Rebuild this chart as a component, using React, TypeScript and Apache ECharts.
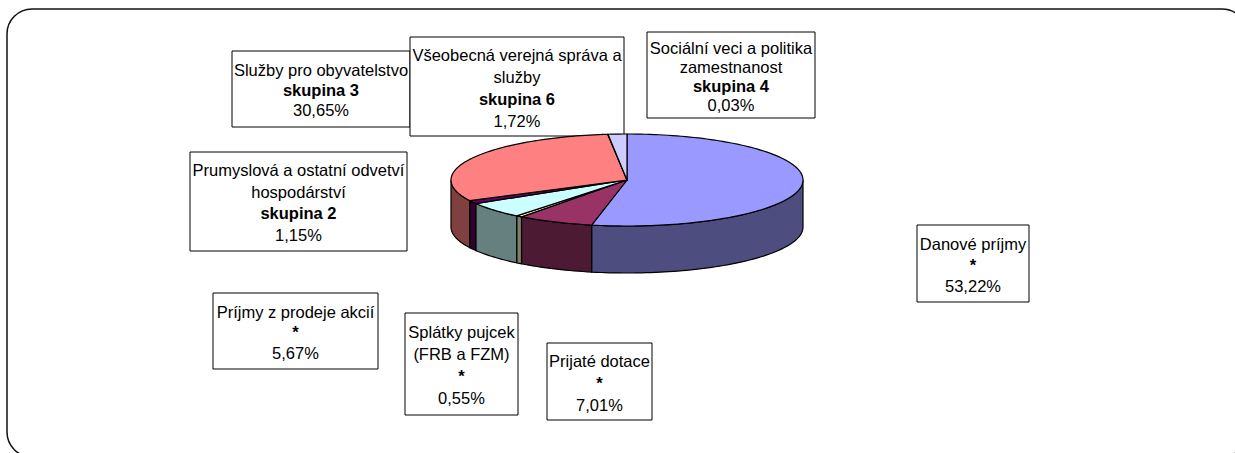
import React, { useEffect, useRef } from "react";
import * as echarts from "echarts";

// ---- data ----
const categories = [
  "Danové príjmy",
  "Prijaté dotace",
  "Splátky pujcek\n(FRB a FZM)",
  "Príjmy z prodeje akcií",
  "Prumyslová a ostatní odvetví\nhospodárství",
  "Služby pro obyvatelstvo",
  "Sociální veci a politika\nzamestnanost",
  "Všeobecná verejná správa a\nslužby",
];
const groups = ["*", "*", "*", "*", "skupina 2", "skupina 3", "skupina 4", "skupina 6"];
const values = [53.22, 7.01, 0.55, 5.67, 1.15, 30.65, 0.03, 1.72];

// ---- styles / layout ----
const palette = ["#9999FF", "#993366", "#FFFFCC", "#CCFFFF", "#660066", "#FF8080", "#0066CC", "#CCCCFF"];
const FONT = "'Liberation Sans', Arial, sans-serif";
const FS = 16.5;
const PIE = { cx: 627, cy: 180, rx: 176, ry: 46, depth: 47 };
// label boxes [x, y, w, h, lineHeight]
const boxes: number[][] = [
  [917, 225, 112, 77, 21],
  [547, 343, 105, 77, 22],
  [405, 313, 113, 102, 22],
  [213, 293, 165, 76, 20.5],
  [190, 152, 217, 99, 21.5],
  [232, 51, 178, 76, 20],
  [647, 32, 168, 86, 19],
  [410, 37, 214, 99, 22],
];

function darken(hex: string, f: number) {
  const n = parseInt(hex.slice(1), 16);
  const r = Math.round(((n >> 16) & 255) * f);
  const g = Math.round(((n >> 8) & 255) * f);
  const b = Math.round((n & 255) * f);
  return `rgb(${r},${g},${b})`;
}

function fmt(v: number) {
  return v.toFixed(2).replace(".", ",") + "%";
}

export default function App() {
  const ref = useRef<HTMLDivElement>(null);
  useEffect(() => {
    if (!ref.current) return;
    const chart = echarts.init(ref.current, undefined, { renderer: "svg" });
    const total = values.reduce((a, b) => a + b, 0);
    const cum: number[] = [];
    let acc = 0;
    values.forEach((v) => {
      cum.push(acc);
      acc += v;
    });

    const pt = (a: number, dy = 0) => [
      PIE.cx + PIE.rx * Math.sin(a),
      PIE.cy - PIE.ry * Math.cos(a) + dy,
    ];
    const arc = (a1: number, a2: number, dy = 0) => {
      const pts: number[][] = [];
      const n = Math.max(2, Math.ceil(((a2 - a1) / (Math.PI * 2)) * 240));
      for (let k = 0; k <= n; k++) pts.push(pt(a1 + ((a2 - a1) * k) / n, dy));
      return pts;
    };

    const renderItem = (params: any, api: any) => {
      const i = params.dataIndex;
      const v = api.value(0);
      const s = api.value(1);
      const a1 = (s / total) * Math.PI * 2;
      const a2 = ((s + v) / total) * Math.PI * 2;
      const children: any[] = [];
      const f1 = Math.max(a1, Math.PI / 2);
      const f2 = Math.min(a2, (Math.PI * 3) / 2);
      if (f2 > f1) {
        const top = arc(f1, f2);
        const bot = arc(f1, f2, PIE.depth).reverse();
        children.push({
          type: "polygon",
          z2: 1,
          shape: { points: top.concat(bot) },
          style: { fill: darken(palette[i], 0.5), stroke: "#000", lineWidth: 1.2 },
        });
      }
      children.push({
        type: "polygon",
        z2: 10,
        shape: { points: [[PIE.cx, PIE.cy]].concat(arc(a1, a2)) },
        style: { fill: palette[i], stroke: "#000", lineWidth: 1.2, lineJoin: "round" },
      });
      return { type: "group", children };
    };

    const labelGraphics = categories.map((c, i) => {
      const [x, y, w, h, lh] = boxes[i];
      const lines = c.split("\n").map((l) => `{n|${l}}`);
      lines.push(`{b|${groups[i]}}`);
      lines.push(`{n|${fmt(values[i])}}`);
      return {
        type: "group",
        z: 100,
        children: [
          {
            type: "rect",
            shape: { x, y, width: w, height: h },
            style: { fill: "#fff", stroke: "#000", lineWidth: 1 },
          },
          {
            type: "text",
            x: x + w / 2,
            y: y + h / 2 + 1,
            style: {
              text: lines.join("\n"),
              align: "center",
              verticalAlign: "middle",
              fontFamily: FONT,
              fontSize: FS,
              lineHeight: lh,
              fill: "#000",
              rich: {
                n: { fontFamily: FONT, fontSize: FS, lineHeight: lh, fill: "#000" },
                b: { fontFamily: FONT, fontSize: FS, lineHeight: lh, fontWeight: "bold", fill: "#000" },
              },
            },
          },
        ],
      };
    });

    chart.setOption({
      animation: false,
      backgroundColor: "#fff",
      graphic: [
        {
          type: "rect",
          z: -1,
          shape: { x: 7, y: 9, width: 1240, height: 448, r: 25 },
          style: { fill: "none", stroke: "#111", lineWidth: 1.5 },
        },
        ...labelGraphics,
      ],
      series: [
        {
          type: "custom",
          coordinateSystem: "none",
          renderItem,
          data: values.map((v, i) => ({ name: categories[i], value: [v, cum[i]] })),
        },
      ],
    });
    return () => chart.dispose();
  }, []);
  return (
    <div
      ref={ref}
      style={{ position: "absolute", left: 0, top: 0, width: 1235, height: 453 }}
    />
  );
}
